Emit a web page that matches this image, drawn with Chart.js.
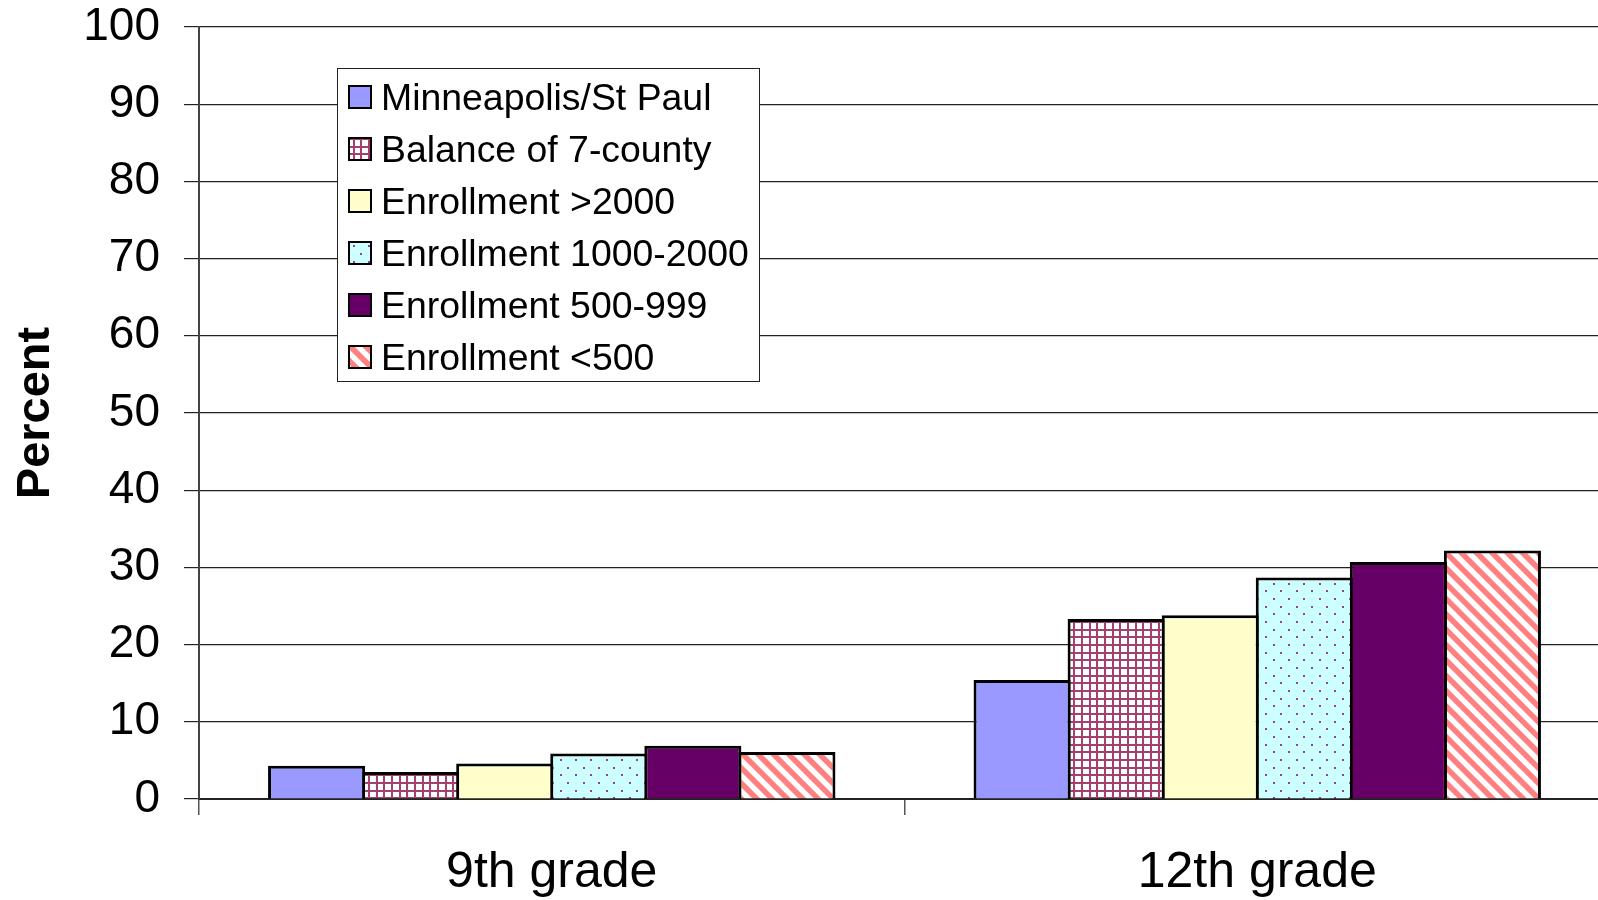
<!DOCTYPE html>
<html>
<head>
<meta charset="utf-8">
<script src="https://cdn.jsdelivr.net/npm/chart.js@4/dist/chart.umd.min.js"></script>
<style>
  html, body { margin: 0; padding: 0; background: #fff; }
  #wrap { width: 1598px; height: 900px; overflow: hidden; }
</style>
</head>
<body>
<div id="wrap"><canvas id="chart" width="1620" height="900"></canvas></div>
<script>
const categories = ['9th grade', '12th grade'];
const seriesNames = ['Minneapolis/St Paul', 'Balance of 7-county', 'Enrollment >2000',
                     'Enrollment 1000-2000', 'Enrollment 500-999', 'Enrollment <500'];
const minneapolis = [4.3, 15.4];
const balance7County = [3.5, 23.3];
const enrollOver2000 = [4.6, 23.8];
const enroll1000to2000 = [5.9, 28.7];
const enroll500to999 = [6.9, 30.7];
const enrollUnder500 = [6.1, 32.2];
const yMin = 0, yMax = 100, yStep = 10;

const FONT = "'Liberation Sans', Arial, sans-serif";

// Excel-like fill patterns, tile 46px = whole number of periods
function makePattern(kind) {
    const S = 46;
    const c = document.createElement('canvas');
    c.width = c.height = S;
    const g = c.getContext('2d');
    if (kind === 'grid') {
        g.fillStyle = '#fff';
        g.fillRect(0, 0, S, S);
        g.fillStyle = '#a3406f';
        const p = S / 6;
        for (let k = 0; k < 6; k++) {
            const v = Math.round(k * p);
            g.fillRect(v, 0, 2, S);
            g.fillRect(0, v, S, 2);
        }
    } else if (kind === 'dots') {
        g.fillStyle = '#ccffff';
        g.fillRect(0, 0, S, S);
        g.fillStyle = '#9a3d9a';
        const p = S / 3;
        for (let i = 0; i < 3; i++) {
            for (let j = 0; j < 3; j++) {
                g.fillRect(Math.round(i * p), Math.round(j * p), 2, 2);
                g.fillRect(Math.round(i * p + p / 2), Math.round(j * p + p / 2), 2, 2);
            }
        }
    } else if (kind === 'stripes') {
        const img = g.createImageData(S, S);
        const p = S / 3;
        for (let y = 0; y < S; y++) {
            for (let x = 0; x < S; x++) {
                let cov = 0;
                for (let sy = 0; sy < 4; sy++) {
                    for (let sx = 0; sx < 4; sx++) {
                        const d = (x + (sx + 0.5) / 4) - (y + (sy + 0.5) / 4);
                        const t = ((d % p) + p) % p;
                        if (t < 7.8) cov++;
                    }
                }
                cov /= 16;
                const i = (y * S + x) * 4;
                img.data[i] = 255;
                img.data[i + 1] = Math.round(255 - cov * (255 - 128));
                img.data[i + 2] = Math.round(255 - cov * (255 - 128));
                img.data[i + 3] = 255;
            }
        }
        g.putImageData(img, 0, 0);
    }
    return g.createPattern(c, 'repeat');
}

const ctx = document.getElementById('chart').getContext('2d');

const fills = ['#9999ff', makePattern('grid'), '#ffffcc', makePattern('dots'), '#660066', makePattern('stripes')];
const seriesData = [minneapolis, balance7County, enrollOver2000, enroll1000to2000, enroll500to999, enrollUnder500];

// legend box drawn inside the plot, like the original
const boxLegend = {
    id: 'boxLegend',
    afterDraw(chart) {
        const c = chart.ctx;
        const left = 337, top = 68, w = 422, h = 313;
        c.save();
        c.fillStyle = '#fff';
        c.fillRect(left, top, w, h);
        c.strokeStyle = '#222';
        c.lineWidth = 1;
        c.strokeRect(left + 0.5, top + 0.5, w, h);
        c.font = '37.4px ' + FONT;
        c.textBaseline = 'middle';
        c.textAlign = 'left';
        chart.data.datasets.forEach((ds, i) => {
            const cy = 97 + i * 52;
            c.fillStyle = ds.backgroundColor;
            c.fillRect(349, cy - 11, 22, 22);
            c.strokeStyle = '#000';
            c.lineWidth = 2;
            c.strokeRect(349, cy - 11, 22, 22);
            c.fillStyle = '#000';
            c.fillText(ds.label, 381, cy + 3);
        });
        c.restore();
    }
};

new Chart(ctx, {
    type: 'bar',
    data: {
        labels: categories,
        datasets: seriesNames.map((name, i) => ({
            label: name,
            data: seriesData[i],
            backgroundColor: fills[i],
            borderColor: '#000',
            borderWidth: 3,
            categoryPercentage: 0.8,
            barPercentage: 1.032
        }))
    },
    options: {
        responsive: false,
        animation: false,
        devicePixelRatio: 1,
        layout: { padding: { top: 0, right: 10, bottom: 0, left: 0 } },
        plugins: {
            legend: { display: false },
            tooltip: { enabled: false }
        },
        scales: {
            x: {
                grid: { offset: true, drawOnChartArea: false, color: '#555', lineWidth: 1.5, tickLength: 16 },
                border: { color: '#222', width: 2 },
                ticks: { font: { family: FONT, size: 50 }, color: '#000', padding: 28, maxRotation: 0, autoSkip: false },
                afterFit: function (scale) { scale.height = 101; }
            },
            y: {
                min: yMin,
                max: yMax,
                ticks: { stepSize: yStep, font: { family: FONT, size: 46 }, color: '#000', padding: 24 },
                grid: { color: '#222', lineWidth: 1.2, tickLength: 15 },
                border: { color: '#444', width: 2 },
                title: {
                    display: true,
                    text: 'Percent',
                    color: '#000',
                    font: { family: FONT, size: 47, weight: 'bold' },
                    padding: { top: 8, bottom: 0 }
                },
                afterFit: function (scale) {
                    scale.width = 199;
                    scale.paddingTop = 27;
                    scale.paddingBottom = 0;
                }
            }
        }
    },
    plugins: [boxLegend]
});
</script>
</body>
</html>
